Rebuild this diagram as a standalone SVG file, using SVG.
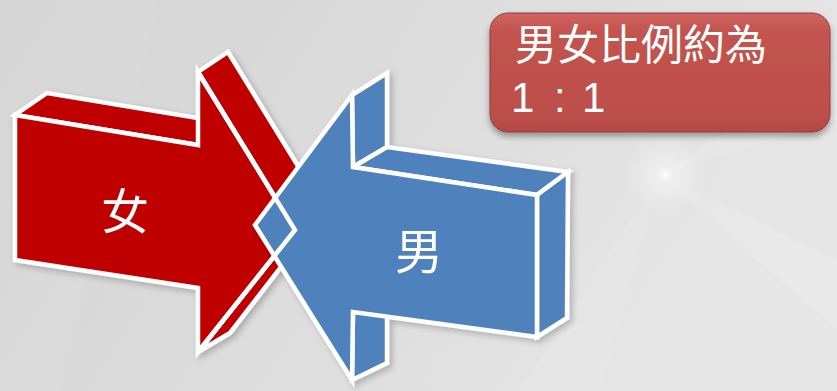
<svg xmlns="http://www.w3.org/2000/svg" width="837" height="391" viewBox="0 0 837 391">
  <defs>
    <linearGradient id="bg" x1="0" y1="0" x2="1" y2="0.3">
      <stop offset="0" stop-color="#d3d3d3"/>
      <stop offset="0.5" stop-color="#dcdcdc"/>
      <stop offset="1" stop-color="#e6e6e6"/>
    </linearGradient>
    <radialGradient id="glow" cx="665" cy="175" r="40" gradientUnits="userSpaceOnUse">
      <stop offset="0" stop-color="#ffffff" stop-opacity="0.9"/>
      <stop offset="0.2" stop-color="#ffffff" stop-opacity="0.4"/>
      <stop offset="1" stop-color="#ffffff" stop-opacity="0"/>
    </radialGradient>
    <linearGradient id="boxfill" x1="0" y1="0" x2="0" y2="1">
      <stop offset="0" stop-color="#d06461"/>
      <stop offset="0.15" stop-color="#c3534f"/>
      <stop offset="0.85" stop-color="#bd4f4c"/>
      <stop offset="1" stop-color="#b34845"/>
    </linearGradient>
    <filter id="shadow" x="-10%" y="-10%" width="130%" height="130%">
      <feDropShadow dx="3" dy="3" stdDeviation="3" flood-color="#000" flood-opacity="0.22"/>
    </filter>
    <filter id="boxshadow" x="-10%" y="-20%" width="125%" height="150%">
      <feDropShadow dx="0" dy="4" stdDeviation="3" flood-color="#000" flood-opacity="0.35"/>
    </filter>
  </defs>
  <style>
    .red { fill: #c00000; stroke: #ffffff; stroke-width: 4.5; stroke-linejoin: miter; }
    .blue { fill: #4f81bd; stroke: #ffffff; stroke-width: 4.5; stroke-linejoin: miter; }
    .edge { fill: none; stroke: #ffffff; stroke-width: 4.5; stroke-linejoin: miter; }
    .label { font-family: "Noto Sans CJK TC", "Noto Sans CJK SC", sans-serif; fill: #ffffff; }
    .digits { font-family: "Liberation Sans", Arial, sans-serif; fill: #ffffff; }
  </style>

  <rect x="0" y="0" width="837" height="391" fill="url(#bg)"/>
  <polygon points="660,175 837,60 837,120" fill="#ffffff" opacity="0.12"/>
  <polygon points="660,175 837,260 837,330" fill="#ffffff" opacity="0.12"/>
  <polygon points="660,175 520,391 600,391" fill="#ffffff" opacity="0.08"/>
  <polygon points="0,0 160,0 60,391 0,391" fill="#ffffff" opacity="0.05"/>
  <circle cx="665" cy="175" r="40" fill="url(#glow)"/>

  <g id="node-female" filter="url(#shadow)">
    <polygon class="red" points="15,115 47,93 228,123 198,145"/>
    <polygon class="red" points="198,72 228,52 325,210 295,230"/>
    <polygon class="red" points="295,230 325,210 230,333 198,352"/>
    <polygon class="red" points="15,115 198,145 198,72 295,230 198,352 198,288 15,260"/>
    <text class="label" x="125" y="229" font-size="48" text-anchor="middle">女</text>
  </g>

  <g id="node-male" filter="url(#shadow)">
    <polygon class="blue" points="353,167 352,95 387,73 387,147"/>
    <polygon class="blue" points="353,312 352,380 387,363 387,290"/>
    <polygon class="blue" points="353,167 537,195 568,172 387,147"/>
    <polygon class="blue" points="537,195 537,337 567,318 568,172"/>
    <polygon class="blue" points="537,195 353,167 352,95 255,225 352,380 353,312 537,337"/>
    <text class="label" x="419" y="269" font-size="48" text-anchor="middle">男</text>
  </g>

  <g id="connectors">
    <polyline class="edge" points="198,72 295,230 198,352"/>
  </g>

  <g id="node-ratio">
    <rect x="490" y="13" width="340" height="119" rx="18" ry="18" fill="url(#boxfill)" stroke="#8e3d3b" stroke-width="1" filter="url(#boxshadow)"/>
    <text class="label" x="515" y="60" font-size="42">男女比例約為</text>
    <text class="digits" x="511 535 554 570 582" y="112" font-size="42">1 : 1</text>
  </g>
</svg>
